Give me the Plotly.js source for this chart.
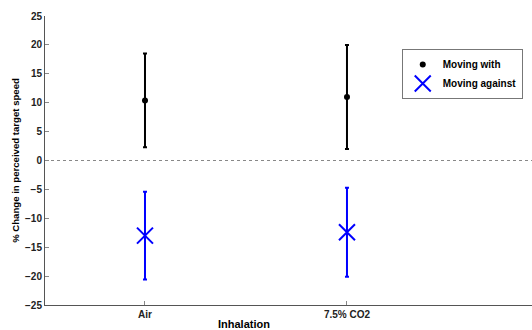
<!DOCTYPE html>
<html><head><meta charset="utf-8">
<script src="https://cdn.plot.ly/plotly-3.0.1.min.js"></script>
<style>html,body{margin:0;padding:0;background:#fff}</style>
</head><body><div id="chart" style="width:532px;height:330px"></div>
<script>
const categories = ["Air", "7.5% CO2"];
const catPos = [1, 2];
const withMean = [10.4, 11.0];
const withErr = [8.1, 9.0];
const againstMean = [-13.0, -12.4];
const againstErr = [7.6, 7.7];
const yTicks = [-25, -20, -15, -10, -5, 0, 5, 10, 15, 20, 25];
const xTitle = "Inhalation";

const traces = [
  {x: catPos, y: withMean, name: "Moving with", type: "scatter", mode: "markers",
   marker: {symbol: "circle", size: 6, color: "#000"},
   error_y: {type: "data", array: withErr, visible: true, color: "#000", thickness: 2, width: 2}},
  {x: catPos, y: againstMean, name: "Moving against", type: "scatter", mode: "markers",
   marker: {symbol: "x-thin", size: 16, color: "#0000ff", line: {color: "#0000ff", width: 2}},
   error_y: {type: "data", array: againstErr, visible: true, color: "#0000ff", thickness: 2, width: 2}}
];
const fam = "Liberation Sans, Arial, sans-serif";
const layout = {
  width: 532, height: 330,
  margin: {l: 45, r: 0, t: 16, b: 25},
  paper_bgcolor: "#fff", plot_bgcolor: "#fff",
  font: {family: fam, size: 10, color: "#222"},
  showlegend: true,
  legend: {x: 0.981, y: 0.886, xanchor: "right", yanchor: "top", bgcolor: "#fff",
           bordercolor: "#777", borderwidth: 1, font: {family: fam, size: 10, color: "#000", weight: "bold"},
           tracegroupgap: 0, itemsizing: "trace", itemwidth: 30},
  xaxis: {range: [0.505, 2.916], tickvals: catPos, ticktext: categories,
          showgrid: false, zeroline: false, showline: true, linecolor: "#555", linewidth: 1,
          ticks: "inside", ticklen: 4, tickcolor: "#888",
          tickfont: {family: fam, size: 10, weight: "bold", color: "#222"}},
  yaxis: {range: [-25, 25], tickvals: yTicks, showgrid: false, zeroline: false,
          showline: true, linecolor: "#555", linewidth: 1,
          ticks: "inside", ticklen: 4, tickcolor: "#888",
          tickfont: {family: fam, size: 10, weight: "bold", color: "#222"},
          title: {text: "% Change in perceived target speed", standoff: 3, font: {family: fam, size: 9.6, weight: "bold", color: "#000"}}},
  annotations: [{text: xTitle, xref: "paper", yref: "paper", x: 0.409, y: -0.067, xanchor: "center", yanchor: "middle",
                 showarrow: false, borderpad: 0, font: {family: fam, size: 11, weight: "bold", color: "#000"}}],
  shapes: [{type: "line", xref: "paper", x0: 0, x1: 1, yref: "y", y0: 0, y1: 0,
            line: {color: "#888", width: 1, dash: "dot"}}]
};
Plotly.newPlot("chart", traces, layout, {displayModeBar: false, staticPlot: true});
</script></body></html>
